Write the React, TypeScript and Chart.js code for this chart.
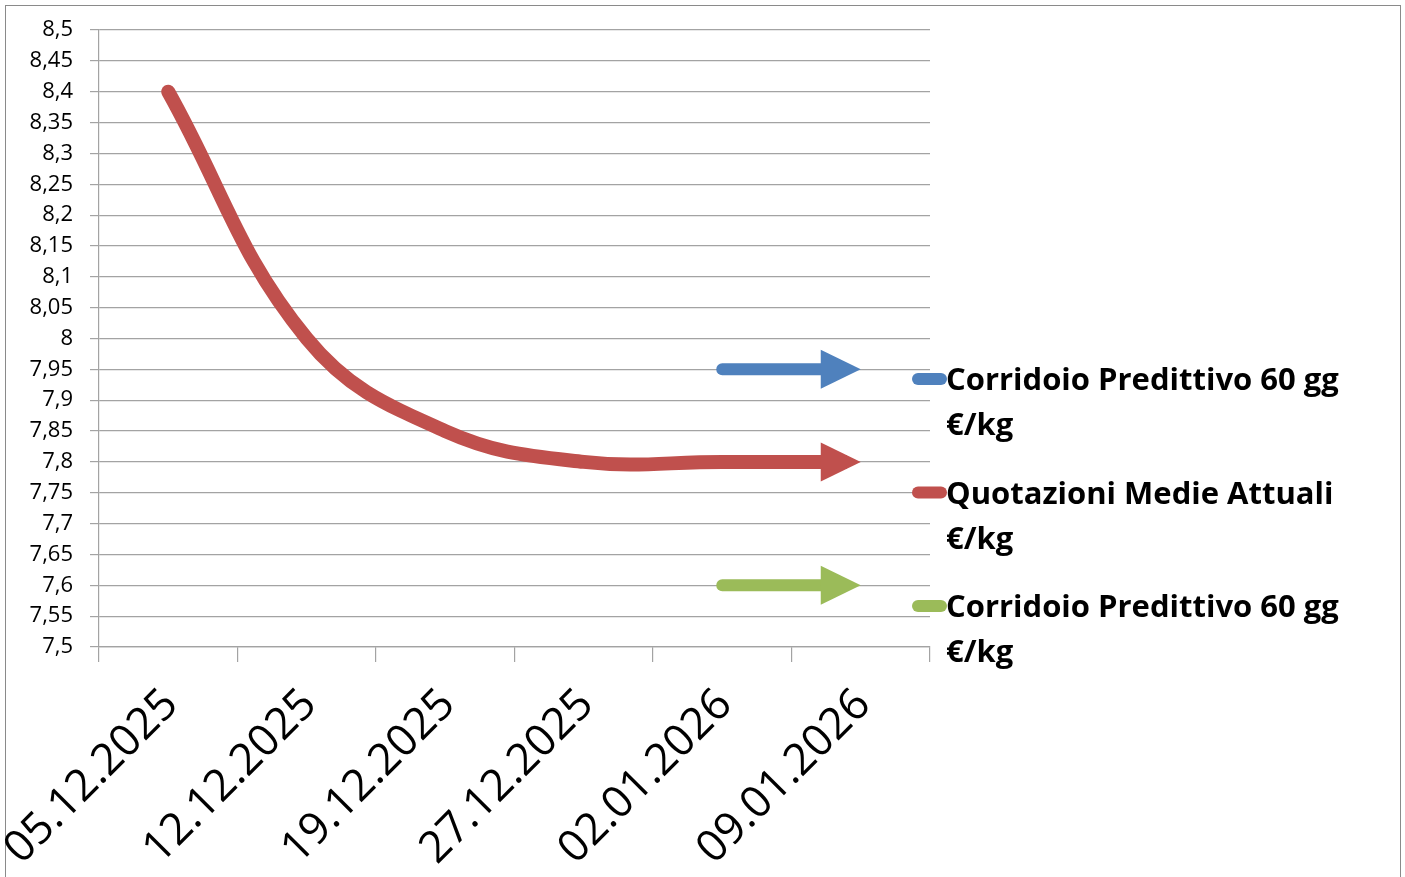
import React, { useEffect, useRef } from 'react';
import { Chart, registerables } from 'chart.js';

Chart.register(...registerables);

// ---------- data ----------
const categories = ['05.12.2025', '12.12.2025', '19.12.2025', '27.12.2025', '02.01.2026', '09.01.2026'];
const upperCorridor = [null, null, null, null, 7.95, 7.95];
const currentQuotes = [8.4, 8.0, 7.85, 7.8, 7.8, 7.8];
const lowerCorridor = [null, null, null, null, 7.6, 7.6];
const seriesLabels = [
  'Corridoio Predittivo 60 gg €/kg',
  'Quotazioni Medie Attuali €/kg',
  'Corridoio Predittivo 60 gg €/kg',
];
const seriesColors = ['#4F81BD', '#C0504D', '#9BBB59'];
const yMin = 7.5;
const yMax = 8.5;
const yStep = 0.05;

// ---------- styling constants ----------
const FONT = "'Open Sans', sans-serif";
const GRID = '#a3a3a3';
const HEAD_LEN = 40;
const HEAD_HALF = 19.5;
const CLIP_BACK = 14;
const LEGEND_FONT = 31;
const LEGEND_FIRST_BASE = 390;
const LEGEND_GAP = 113.5;
const LEGEND_LINE = 45;

const fmt = (v: number) => String(Number(Number(v).toFixed(2))).replace('.', ',');

function lastPoint(chart: any, index: number) {
  const meta = chart.getDatasetMeta(index);
  const data = chart.data.datasets[index].data;
  for (let i = meta.data.length - 1; i >= 0; i--) {
    if (data[i] !== null && data[i] !== undefined) return meta.data[i];
  }
  return null;
}

const arrowPlugin = {
  id: 'arrowHeads',
  beforeDatasetDraw(chart: any, args: any) {
    const p = lastPoint(chart, args.index);
    if (!p) return;
    const ctx = chart.ctx;
    ctx.save();
    ctx.beginPath();
    ctx.rect(0, 0, p.x - CLIP_BACK, chart.height);
    ctx.clip();
  },
  afterDatasetDraw(chart: any, args: any) {
    const p: any = lastPoint(chart, args.index);
    if (!p) return;
    const ctx = chart.ctx;
    ctx.restore();
    const ds = chart.data.datasets[args.index];
    let ang = 0;
    if (p.cp1x !== undefined && Math.hypot(p.x - p.cp1x, p.y - p.cp1y) > 1) {
      ang = Math.atan2(p.y - p.cp1y, p.x - p.cp1x);
    }
    ctx.save();
    ctx.translate(p.x, p.y);
    ctx.rotate(ang);
    ctx.beginPath();
    ctx.moveTo(0, 0);
    ctx.lineTo(-HEAD_LEN, -HEAD_HALF);
    ctx.lineTo(-HEAD_LEN, HEAD_HALF);
    ctx.closePath();
    ctx.fillStyle = ds.borderColor;
    ctx.fill();
    ctx.restore();
  },
};

function wrap(ctx: CanvasRenderingContext2D, text: string, maxW: number) {
  const words = text.split(' ');
  const lines: string[] = [];
  let cur = '';
  for (const w of words) {
    const t = cur ? cur + ' ' + w : w;
    if (cur && ctx.measureText(t).width > maxW) {
      lines.push(cur);
      cur = w;
    } else cur = t;
  }
  if (cur) lines.push(cur);
  return lines;
}

const legendPlugin = {
  id: 'wrapLegend',
  afterDraw(chart: any) {
    const ctx = chart.ctx;
    const area = chart.chartArea;
    ctx.save();
    ctx.font = `bold ${LEGEND_FONT}px ${FONT}`;
    ctx.textBaseline = 'alphabetic';
    ctx.textAlign = 'left';
    const textX = area.right + 16;
    const maxW = chart.width - textX - 30;
    chart.data.datasets.forEach((ds: any, i: number) => {
      const base = LEGEND_FIRST_BASE + i * LEGEND_GAP;
      ctx.strokeStyle = ds.borderColor;
      ctx.lineWidth = 12;
      ctx.lineCap = 'round';
      ctx.beginPath();
      ctx.moveTo(area.right - 12, base - 11);
      ctx.lineTo(textX - 5, base - 11);
      ctx.stroke();
      ctx.fillStyle = '#000';
      wrap(ctx, ds.label, maxW).forEach((ln, j) => ctx.fillText(ln, textX, base + j * LEGEND_LINE));
    });
    ctx.restore();
  },
};

export default function App() {
  const ref = useRef<HTMLCanvasElement | null>(null);

  useEffect(() => {
    if (!ref.current) return;
    Chart.defaults.font.family = FONT;
    const series = [upperCorridor, currentQuotes, lowerCorridor];
    const chart = new Chart(ref.current, {
      type: 'line',
      data: {
        labels: categories,
        datasets: series.map((d, i) => ({
          label: seriesLabels[i],
          data: d,
          borderColor: seriesColors[i],
          backgroundColor: seriesColors[i],
          borderWidth: i === 1 ? 14 : 12,
          borderCapStyle: 'round',
          borderJoinStyle: 'round',
          tension: 0.4,
          pointRadius: 0,
          pointHoverRadius: 0,
          fill: false,
        })),
      },
      options: {
        responsive: true,
        maintainAspectRatio: false,
        animation: false,
        events: [],
        layout: { padding: { left: 0, top: 30, right: 475, bottom: 0 }, autoPadding: false },
        plugins: { legend: { display: false }, tooltip: { enabled: false } },
        scales: {
          x: {
            type: 'category',
            offset: true,
            grid: {
              display: true,
              drawOnChartArea: false,
              drawTicks: true,
              tickLength: 15,
              offset: true,
              color: GRID,
              lineWidth: 1.2,
            },
            border: { display: true, color: GRID, width: 1.2 },
            ticks: {
              autoSkip: false,
              maxRotation: 45,
              minRotation: 45,
              padding: 17,
              labelOffset: 3,
              color: '#000',
              font: { size: 44, family: FONT },
            },
            afterFit: (s: any) => {
              s.height = 230;
              s.paddingLeft = 0;
              s.paddingRight = 0;
              s.paddingTop = 0;
              s.paddingBottom = 0;
            },
          },
          y: {
            min: yMin,
            max: yMax,
            grid: { color: GRID, lineWidth: 1.2, tickLength: 9, drawTicks: true },
            border: { display: true, color: GRID, width: 1.2 },
            ticks: {
              stepSize: yStep,
              maxTicksLimit: 21,
              autoSkip: false,
              padding: 17,
              color: '#000',
              font: { size: 22, family: FONT },
              callback: (v: any) => fmt(v),
            },
            afterFit: (s: any) => {
              s.width = 99;
              s.paddingTop = 0;
              s.paddingBottom = 0;
              s.paddingLeft = 0;
              s.paddingRight = 0;
            },
          },
        },
      } as any,
      plugins: [arrowPlugin, legendPlugin],
    } as any);
    return () => chart.destroy();
  }, []);

  return (
    <div style={{ position: 'absolute', left: 0, top: 0, width: 1405, height: 877, overflow: 'hidden', background: '#fff' }}>
      <div
        style={{
          position: 'absolute',
          left: 5,
          top: 5,
          width: 1394,
          height: 880,
          borderTop: '1px solid #8a8a8a',
          borderLeft: '1px solid #8a8a8a',
          borderRight: '1px solid #8a8a8a',
        }}
      />
      <div style={{ position: 'absolute', left: 0, top: 0, width: 1405, height: 877 }}>
        <canvas ref={ref} />
      </div>
    </div>
  );
}
